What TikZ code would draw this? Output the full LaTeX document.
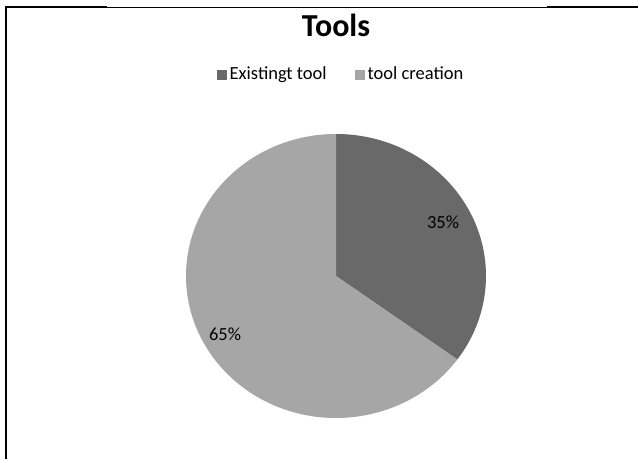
\documentclass[tikz,border=0pt]{standalone}
\usepackage{fontspec}
\setmainfont{Carlito}
\usepackage{xcolor}
\usepackage{tikz}

\definecolor{existcol}{RGB}{105,105,105}
\definecolor{createcol}{RGB}{166,166,166}

\begin{document}
\begin{tikzpicture}[x = 1pt, y = 1pt,
    lbl/.style = {font = \fontsize{18.5}{20}\selectfont, inner sep = 0pt}]
            \useasboundingbox (0,0) rectangle (638,459);

            % frame
            \draw[line width = 2.4pt] (6,0) -- (6,452) -- (107,452);
            \draw[line width = 0.9pt] (107,452) -- (547,452);
            \draw[line width = 2.4pt] (547,452) -- (638,452);

            \node[font = \fontsize{32}{36}\selectfont\bfseries, anchor = base] (title) at (336,422) {Tools};

            % legend
            \foreach \x/\c/\t in {217/existcol/Existingt tool, 355/createcol/tool creation}{
                \fill[\c] (\x,379) rectangle + (10,10);
                \node[lbl, anchor = base west] at (\x + 12.5,379) {\t};
            }

            % slices
            \fill[existcol] (336,183) -- (336,325) arc[start angle = 90, end angle = -36, x radius = 150, y radius = 142] -- cycle;
            \fill[createcol] (336,183) -- (336,325) arc[start angle = 90, end angle = 324, x radius = 150, y radius = 142] -- cycle;

            \node[lbl] (A) at (443,237) {35\%};
            \node[lbl] (B) at (225,125) {65\%};
        \end{tikzpicture}
\end{document}
